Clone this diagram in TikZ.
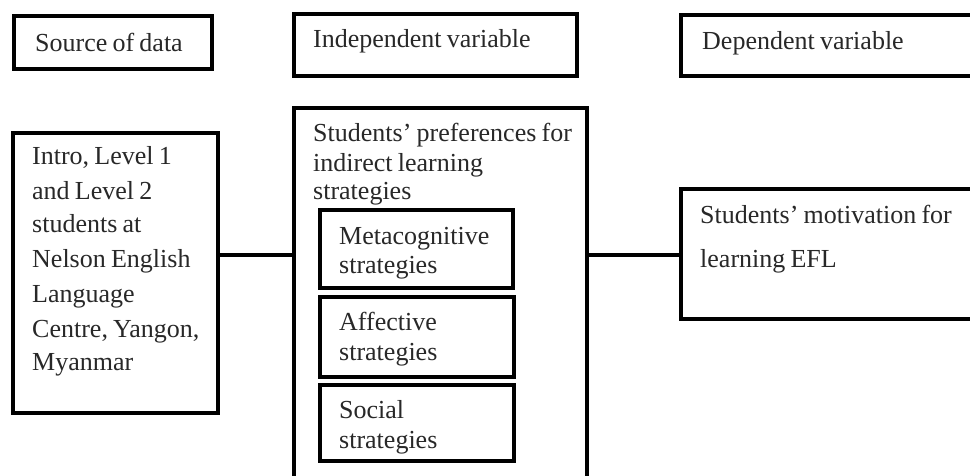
\documentclass[tikz,border=0pt]{standalone}
\usepackage{fontspec}
\setmainfont[WordSpace={0.8}]{Liberation Serif}
\definecolor{txt}{RGB}{40,40,40}
\begin{document}
\begin{tikzpicture}[x=1pt,y=-1pt,
  box/.style={draw=black,line width=4pt,rectangle,inner sep=0pt,fill=white},
  lbl/.style={anchor=base west,inner sep=0pt,text=txt,font=\fontsize{26}{30}\selectfont},
  link/.style={draw=black,line width=4pt}]
\useasboundingbox (0,0) rectangle (970,476);
\clip (0,0) rectangle (970,476);
% header boxes
\node[box,minimum width=198pt,minimum height=53pt] (src) at (113,42.5) {};
\node[box,minimum width=283pt,minimum height=62pt] (ind) at (435.5,45) {};
\node[box,minimum width=319pt,minimum height=61pt] (dep) at (840.5,45.5) {};
% main boxes
\node[box,minimum width=205pt,minimum height=280pt] (left) at (115.5,273) {};
\node[box,minimum width=293pt,minimum height=392pt] (center) at (440.5,304) {};
\node[box,minimum width=193pt,minimum height=78pt] (meta) at (416.5,249) {};
\node[box,minimum width=194pt,minimum height=80pt] (aff) at (417,337) {};
\node[box,minimum width=194pt,minimum height=76pt] (soc) at (417,423) {};
\node[box,minimum width=319pt,minimum height=130pt] (right) at (840.5,254) {};
% connectors
\coordinate (row) at (0,255);
\draw[link] (left.east |- row) -- (center.west |- row);
\draw[link] (center.east |- row) -- (right.west |- row);
% texts
\node[lbl] (t1) at (35,52) {Source of data};
\node[lbl] (t2) at (313,48) {Independent variable};
\node[lbl] (t3) at (702,50) {Dependent variable};
\node[lbl] (l1) at (32,165) {Intro, Level 1};
\node[lbl] (l2) at (32,200) {and Level 2};
\node[lbl] (l3) at (32,233) {students at};
\node[lbl] (l4) at (32,267) {Nelson English};
\node[lbl] (l5) at (32,302) {Language};
\node[lbl] (l6) at (32,337) {Centre, Yangon,};
\node[lbl] (l7) at (32,370) {Myanmar};
\node[lbl] (c1) at (313,142) {Students’ preferences for};
\node[lbl] (c2) at (313,172) {indirect learning};
\node[lbl] (c3) at (313,200) {strategies};
\node[lbl] (m1) at (339,244) {Metacognitive};
\node[lbl] (m2) at (339,273) {strategies};
\node[lbl] (a1) at (339,330) {Affective};
\node[lbl] (a2) at (339,360) {strategies};
\node[lbl] (s1) at (339,418) {Social};
\node[lbl] (s2) at (339,448) {strategies};
\node[lbl] (r1) at (700,224) {Students’ motivation for};
\node[lbl] (r2) at (700,267) {learning EFL};
\end{tikzpicture}
\end{document}
